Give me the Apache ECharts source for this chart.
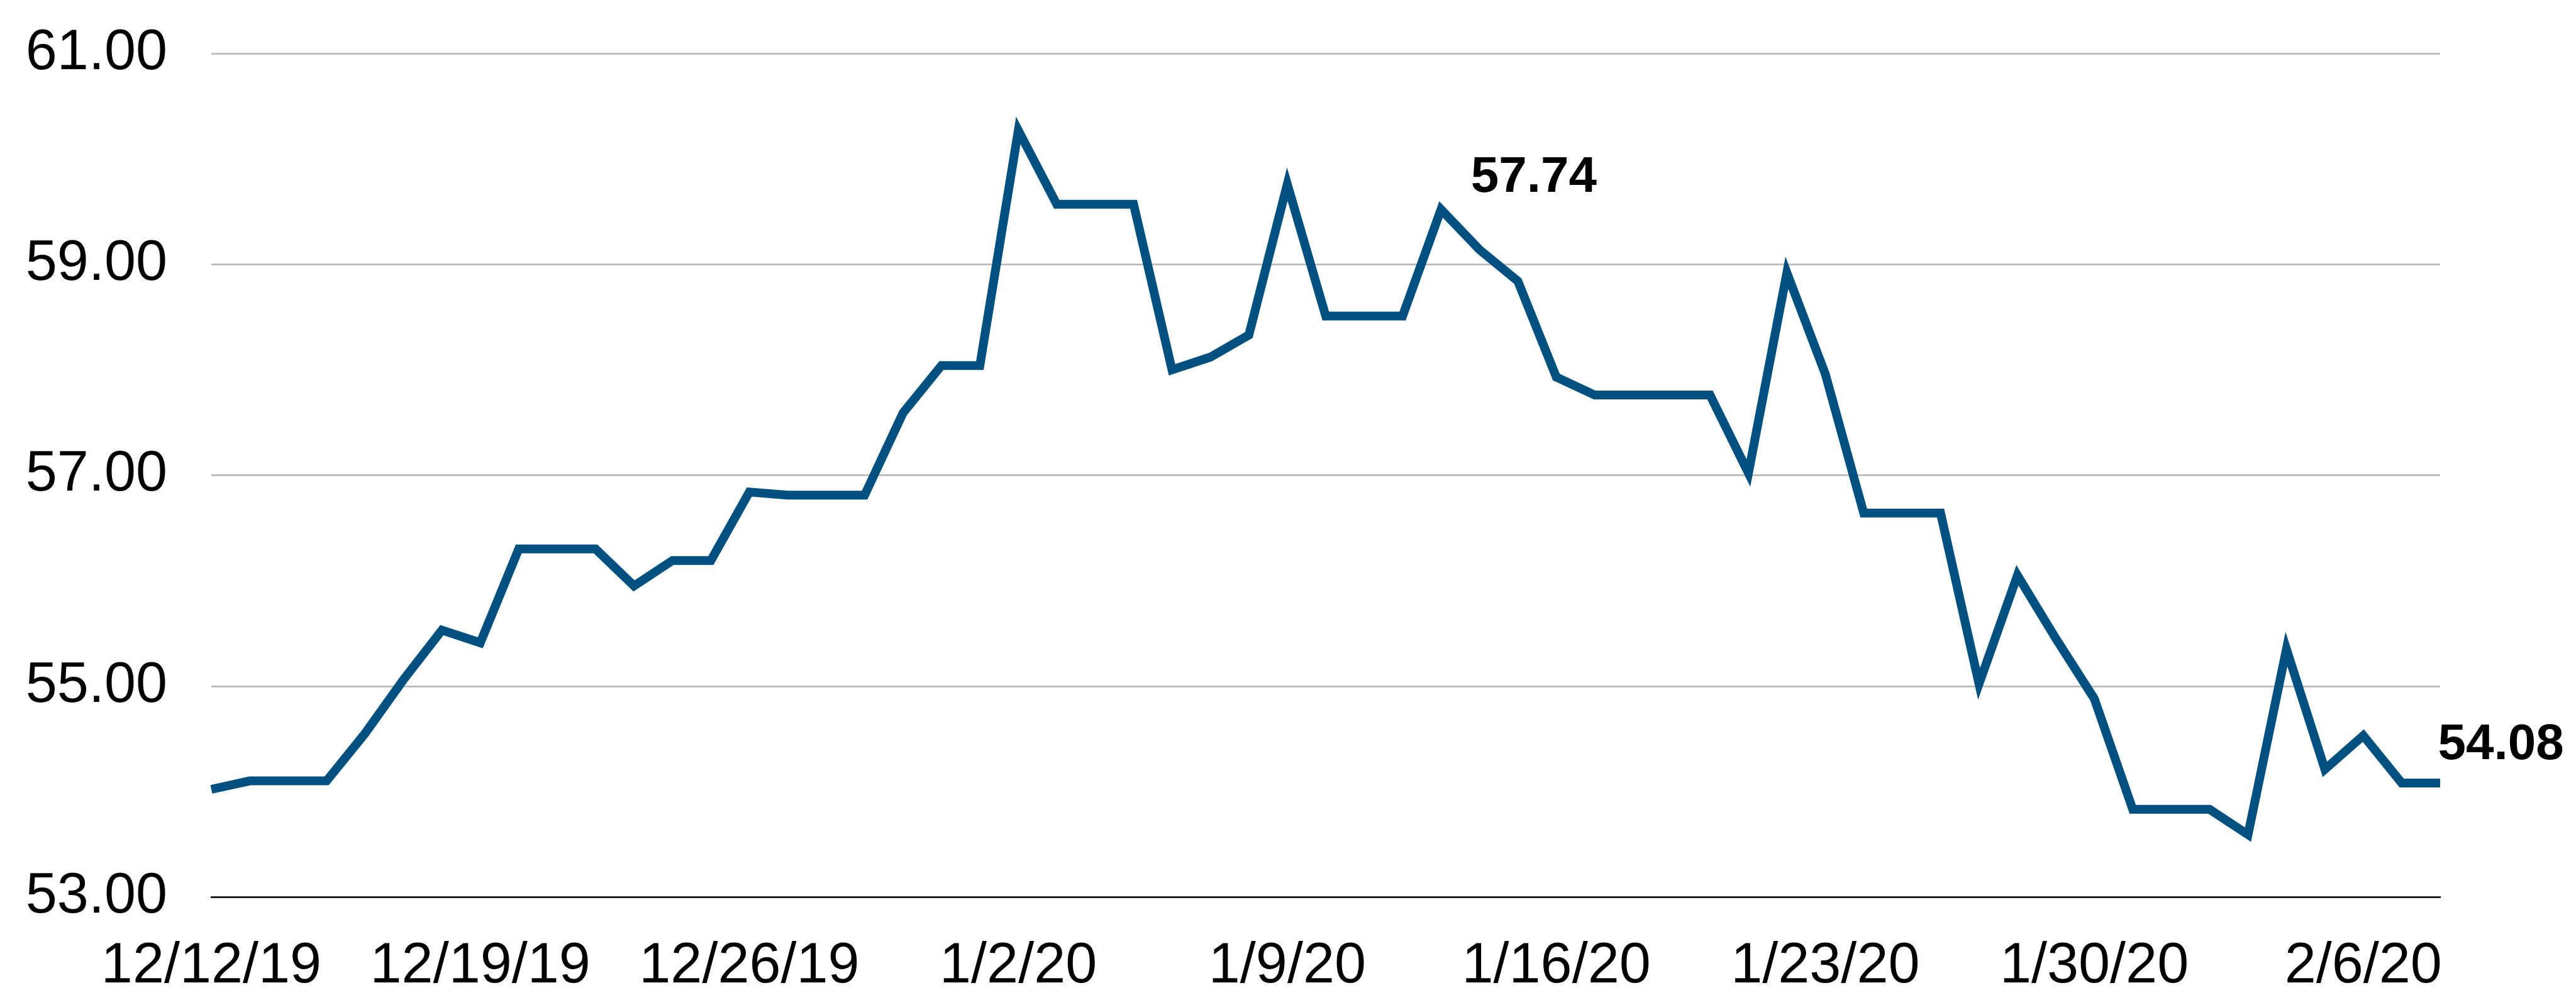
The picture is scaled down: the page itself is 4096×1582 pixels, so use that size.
<!DOCTYPE html>
<html>
<head>
<meta charset="utf-8">
<script src="https://cdn.jsdelivr.net/npm/echarts@6/dist/echarts.min.js"></script>
<style>
html,body{margin:0;padding:0;background:#ffffff;}
#chart{width:4096px;height:1582px;}
</style>
</head>
<body>
<div id="chart"></div>
<script>
const categories = [
  '12/12/19','12/13/19','12/14/19','12/15/19','12/16/19','12/17/19','12/18/19','12/19/19','12/20/19','12/21/19',
  '12/22/19','12/23/19','12/24/19','12/25/19','12/26/19','12/27/19','12/28/19','12/29/19','12/30/19','12/31/19',
  '1/1/20','1/2/20','1/3/20','1/4/20','1/5/20','1/6/20','1/7/20','1/8/20','1/9/20','1/10/20',
  '1/11/20','1/12/20','1/13/20','1/14/20','1/15/20','1/16/20','1/17/20','1/18/20','1/19/20','1/20/20',
  '1/21/20','1/22/20','1/23/20','1/24/20','1/25/20','1/26/20','1/27/20','1/28/20','1/29/20','1/30/20',
  '1/31/20','2/1/20','2/2/20','2/3/20','2/4/20','2/5/20','2/6/20','2/7/20','2/8/20'
];
const values = [
  54.02,54.10,54.10,54.10,54.55,55.06,55.53,55.41,56.30,56.30,
  56.30,55.95,56.19,56.19,56.84,56.81,56.81,56.81,57.59,58.04,
  58.04,60.27,59.57,59.57,59.57,58.00,58.12,58.33,59.76,58.51,
  58.51,58.51,59.52,59.14,58.84,57.93,57.76,57.76,57.76,57.76,
  57.02,58.92,57.96,56.64,56.64,56.64,55.02,56.05,55.45,54.88,
  53.83,53.83,53.83,53.59,55.35,54.21,54.53,54.08,54.08
];
const yTicks = [53, 55, 57, 59, 61];
const annotationDates = ['1/13/20', '2/8/20'];
const annotationTexts = ['57.74', '54.08'];

const FONT = '"Liberation Sans", Arial, Helvetica, sans-serif';
const annotationOffsets = [[47, -50], [-4, -60]];

const markData = annotationDates.map((d, i) => {
  const idx = categories.indexOf(d);
  return {
    coord: [d, values[idx]],
    label: {
      formatter: annotationTexts[i],
      offset: annotationOffsets[i]
    }
  };
});

const chart = echarts.init(document.getElementById('chart'), null, {renderer: 'canvas'});
chart.setOption({
  animation: false,
  backgroundColor: '#ffffff',
  grid: {left: 336, right: 216, top: 85, bottom: 143, containLabel: false},
  xAxis: {
    type: 'category',
    data: categories,
    boundaryGap: false,
    axisLine: {show: true, lineStyle: {color: '#000000', width: 2.5}},
    axisTick: {show: false},
    axisLabel: {
      interval: 6,
      margin: 66,
      color: '#000000',
      fontSize: 90,
      fontFamily: FONT
    },
    splitLine: {show: false}
  },
  yAxis: {
    type: 'value',
    min: yTicks[0],
    max: yTicks[yTicks.length - 1],
    interval: 2,
    axisLine: {show: false},
    axisTick: {show: false},
    axisLabel: {
      margin: 70,
      color: '#000000',
      fontSize: 90,
      fontFamily: FONT,
      formatter: v => v.toFixed(2)
    },
    splitLine: {show: true, lineStyle: {color: '#b5b5b5', width: 2.5}}
  },
  series: [{
    type: 'line',
    data: values,
    showSymbol: false,
    symbol: 'none',
    lineStyle: {color: '#005080', width: 14, join: 'miter', miterLimit: 20, cap: 'butt'},
    itemStyle: {color: '#005080'},
    clip: false,
    markPoint: {
      symbol: 'circle',
      symbolSize: 1,
      itemStyle: {color: 'rgba(0,0,0,0)'},
      label: {
        show: true,
        position: 'right',
        distance: 0,
        color: '#000000',
        fontSize: 80,
        fontWeight: 'bold',
        fontFamily: FONT
      },
      data: markData
    }
  }]
});
</script>
</body>
</html>
